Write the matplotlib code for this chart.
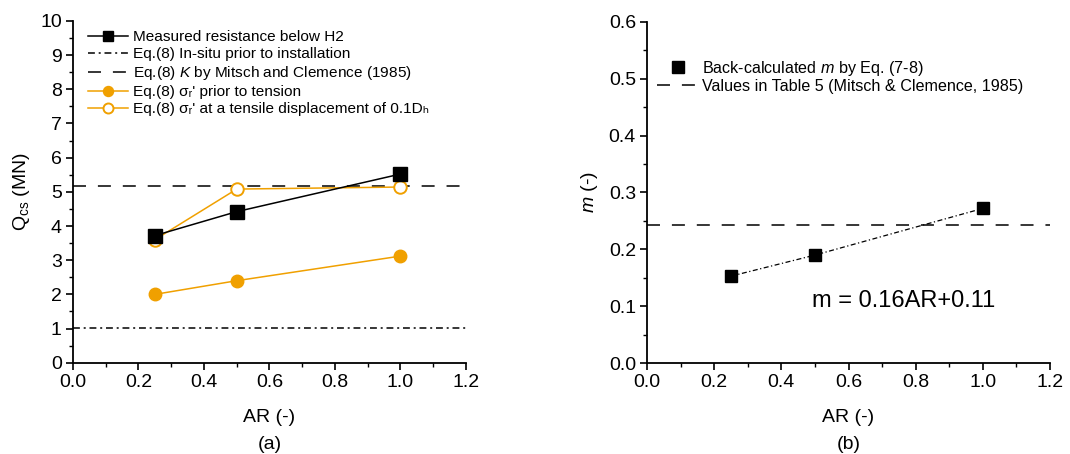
import matplotlib
matplotlib.use("Agg")
import matplotlib.pyplot as plt
from matplotlib.ticker import MultipleLocator

plt.rcParams['font.family'] = ['Liberation Sans', 'DejaVu Sans']
plt.rcParams['mathtext.fontset'] = 'custom'
plt.rcParams['mathtext.rm'] = 'Liberation Sans'
plt.rcParams['mathtext.it'] = 'Liberation Sans:italic'
plt.rcParams['mathtext.bf'] = 'Liberation Sans:bold'

# ---- data ----
ar = [0.25, 0.5, 1.0]
q_measured = [3.72, 4.42, 5.52]
q_insitu = 1.03
q_mitsch = 5.18
q_prior_tension = [2.0, 2.4, 3.12]
q_tensile_disp = [3.6, 5.08, 5.14]

m_backcalc = [0.153, 0.19, 0.272]
m_table5 = 0.242
m_fit_label = "m = 0.16AR+0.11"

orange = '#F0A000'
lw = 1.1

fig = plt.figure(figsize=(10.7, 4.54), dpi=100)
ax1 = fig.add_axes([0.0682, 0.201, 0.3673, 0.753])
ax2 = fig.add_axes([0.6047, 0.200, 0.3766, 0.752])

for ax in (ax1, ax2):
    for s in ('top', 'right'):
        ax.spines[s].set_visible(False)
    for s in ('left', 'bottom'):
        ax.spines[s].set_linewidth(1.3)
    ax.tick_params(which='major', direction='out', length=5, width=1.2, labelsize=14, pad=3)
    ax.tick_params(which='minor', direction='out', length=3, width=1.0)
    ax.set_xlim(0, 1.2)
    ax.xaxis.set_major_locator(MultipleLocator(0.2))
    ax.xaxis.set_minor_locator(MultipleLocator(0.1))
    ax.set_xticks([0.0, 0.2, 0.4, 0.6, 0.8, 1.0, 1.2])
    ax.set_xticklabels(['0.0', '0.2', '0.4', '0.6', '0.8', '1.0', '1.2'])
    ax.set_xlabel('AR (-)', fontsize=14, labelpad=13)

# ---- panel (a) ----
ax1.set_ylim(0, 10)
ax1.yaxis.set_major_locator(MultipleLocator(1))
ax1.yaxis.set_minor_locator(MultipleLocator(0.5))

h_meas, = ax1.plot(ar, q_measured, '-', color='black', lw=lw, marker='s', ms=9.5,
                   mfc='black', mec='black', zorder=5, label='Measured resistance below H2')
h_insitu = ax1.axhline(q_insitu, color='black', lw=lw, dashes=(4.5, 2.5, 1.3, 2.5),
                       label='Eq.(8) In-situ prior to installation')
h_mitsch = ax1.axhline(q_mitsch, color='black', lw=lw, dashes=(8.5, 7.8),
                       label='Eq.(8) $K$ by Mitsch and Clemence (1985)')
h_prior, = ax1.plot(ar, q_prior_tension, '-', color=orange, lw=lw, marker='o', ms=9,
                    mfc=orange, mec=orange, zorder=4,
                    label="Eq.(8) \u03c3\u1d63' prior to tension")
h_disp, = ax1.plot(ar, q_tensile_disp, '-', color=orange, lw=lw, marker='o', ms=9,
                   mfc='white', mec=orange, mew=1.4, zorder=4,
                   label="Eq.(8) \u03c3\u1d63' at a tensile displacement of 0.1D\u2095")

ax1.set_ylabel('Q$\\mathrm{_{cs}}$ (MN)', fontsize=14, labelpad=6)
ax1.legend(handles=[h_meas, h_insitu, h_mitsch, h_prior, h_disp], loc='upper left',
           bbox_to_anchor=(0.015, 1.0), frameon=False, fontsize=11.1, markerscale=0.8,
           handlelength=2.6, handletextpad=0.3, labelspacing=0.2, borderaxespad=0.2)
fig.text(0.0682 + 0.3673 / 2, 0.022, '(a)', ha='center', va='center', fontsize=14)

# ---- panel (b) ----
ax2.set_ylim(0, 0.6)
ax2.yaxis.set_major_locator(MultipleLocator(0.1))
ax2.yaxis.set_minor_locator(MultipleLocator(0.05))
ax2.set_yticks([0.0, 0.1, 0.2, 0.3, 0.4, 0.5, 0.6])
ax2.set_yticklabels(['0.0', '0.1', '0.2', '0.3', '0.4', '0.5', '0.6'])

ax2.plot(ar, m_backcalc, color='black', lw=0.9, dashes=(4, 2, 1, 2), zorder=3)
h_m, = ax2.plot(ar, m_backcalc, linestyle='none', marker='s', ms=8.5, mfc='black', mec='black',
                zorder=5, label='Back-calculated $m$ by Eq. (7-8)')
h_t5 = ax2.axhline(m_table5, color='black', lw=lw, dashes=(8.5, 7.8),
                   label='Values in Table 5 (Mitsch & Clemence, 1985)')
ax2.text(0.492, 0.11, m_fit_label, ha='left', va='center', fontsize=17)

ax2.set_ylabel('$m$ (-)', fontsize=14, labelpad=6)
ax2.legend(handles=[h_m, h_t5], loc='upper left', bbox_to_anchor=(0.0, 0.92),
           frameon=False, fontsize=11.6, markerscale=1.0, handlelength=2.6, handletextpad=0.2,
           labelspacing=0.08, borderaxespad=0.2)
fig.text(0.6047 + 0.3766 / 2, 0.022, '(b)', ha='center', va='center', fontsize=14)

fig.savefig('out.png', dpi=100)
